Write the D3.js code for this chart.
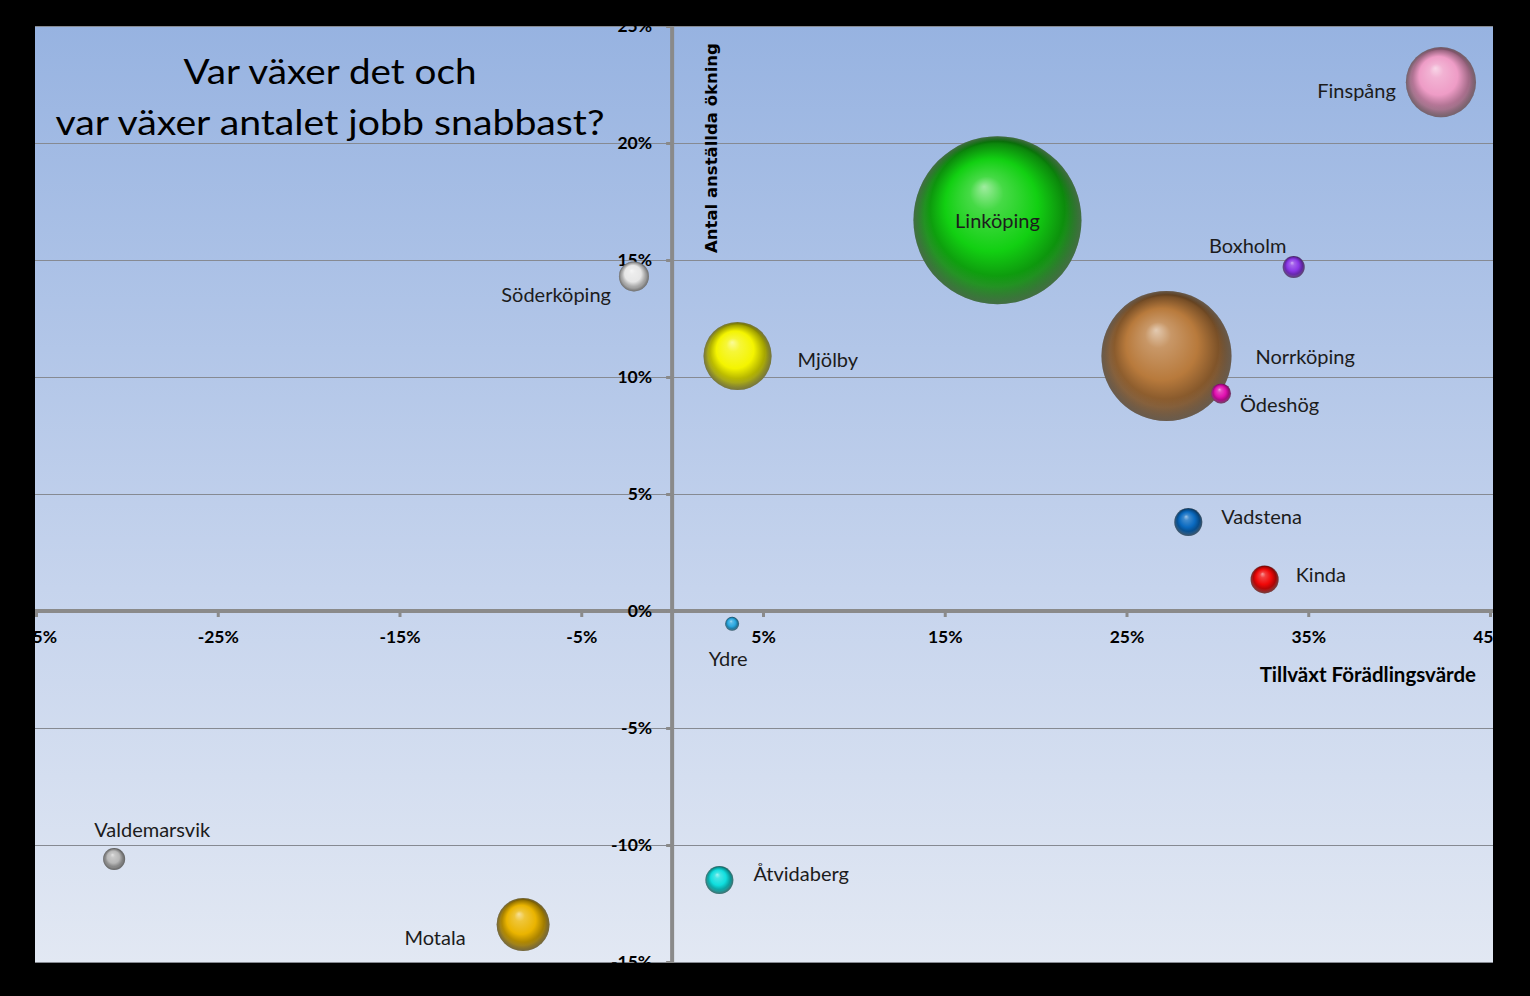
<!DOCTYPE html>
<html>
<head>
<meta charset="utf-8">
<script src="https://cdn.jsdelivr.net/npm/d3@7/dist/d3.min.js"></script>
<style>
  html, body { margin: 0; padding: 0; background: #000; }
  svg { display: block; }
</style>
</head>
<body>
<svg id="chart" width="1530" height="996"></svg>
<script>
// ---------------- DATA ----------------
const municipalities = ["Finspång","Linköping","Boxholm","Norrköping","Ödeshög","Vadstena","Kinda","Ydre","Mjölby","Söderköping","Valdemarsvik","Motala","Åtvidaberg"];
// Tillväxt förädlingsvärde (%)
const valueAddedGrowth = [42.3, 17.9, 34.2, 27.2, 30.2, 28.4, 32.6, 3.3, 3.6, -2.1, -30.7, -8.2, 2.6];
// Antal anställda ökning (%)
const employmentGrowth = [22.6, 16.7, 14.7, 10.9, 9.3, 3.8, 1.35, -0.55, 10.9, 14.3, -10.6, -13.4, -11.5];
// Bubble size (relative)
const bubbleSize = [12.3, 70.6, 1.21, 42.3, 1.0, 1.96, 1.96, 0.49, 11.6, 2.25, 1.21, 7.0, 1.96];
const xTicks = [-35, -25, -15, -5, 5, 15, 25, 35, 45];
const yTicks = [-15, -10, -5, 0, 5, 10, 15, 20, 25];
const titleLines = ["Var växer det och", "var växer antalet jobb snabbast?"];
const xAxisTitle = "Tillväxt Förädlingsvärde";
const yAxisTitle = "Antal anställda ökning";

// ---------------- STYLE ----------------
const FONT = "Lato, 'Open Sans', sans-serif";
const bubbleColors = {
  "Finspång": "#ee9cc6", "Linköping": "#12d012", "Boxholm": "#8a36e6", "Norrköping": "#b87a3c",
  "Ödeshög": "#e010b0", "Vadstena": "#0a6ac0", "Kinda": "#f00808", "Ydre": "#2aa8e0",
  "Mjölby": "#f4f400", "Söderköping": "#e6e6e6", "Valdemarsvik": "#b8b8b8", "Motala": "#eab400",
  "Åtvidaberg": "#10dede"
};
const labelPlacement = {
  "Finspång": {side: "left", gap: 10, dy: 8},
  "Linköping": {side: "center", gap: 0, dy: 0},
  "Boxholm": {side: "custom", dx: -46, dy: -22},
  "Norrköping": {side: "right", gap: 24, dy: 0},
  "Ödeshög": {side: "right", gap: 9, dy: 11},
  "Vadstena": {side: "right", gap: 19, dy: -6},
  "Kinda": {side: "right", gap: 17, dy: -5},
  "Ydre": {side: "custom", dx: -4, dy: 34},
  "Mjölby": {side: "right", gap: 26, dy: 3},
  "Söderköping": {side: "left", gap: 8, dy: 18},
  "Valdemarsvik": {side: "custom", dx: 38, dy: -30},
  "Motala": {side: "left", gap: 31, dy: 12},
  "Åtvidaberg": {side: "right", gap: 20, dy: -7}
};

const W = 1530, H = 996;
const plot = {left: 35, right: 1493, top: 26, bottom: 963};

const svg = d3.select("#chart");
const defs = svg.append("defs");

const bg = defs.append("linearGradient").attr("id", "bgGrad")
  .attr("x1", 0).attr("y1", 0).attr("x2", 0).attr("y2", 1);
bg.append("stop").attr("offset", "0%").attr("stop-color", "#97b3e1");
bg.append("stop").attr("offset", "60%").attr("stop-color", "#c6d4ed");
bg.append("stop").attr("offset", "100%").attr("stop-color", "#e2e8f3");

defs.append("clipPath").attr("id", "plotClip").append("rect")
  .attr("x", plot.left).attr("y", plot.top)
  .attr("width", plot.right - plot.left).attr("height", plot.bottom - plot.top);

svg.append("rect").attr("width", W).attr("height", H).attr("fill", "#000");
svg.append("rect").attr("x", plot.left).attr("y", plot.top)
  .attr("width", plot.right - plot.left).attr("height", plot.bottom - plot.top)
  .attr("fill", "url(#bgGrad)");

const x = d3.scaleLinear().domain([-35, 45]).range([36, 1490]);
const y = d3.scaleLinear().domain([-15, 25]).range([962, 26]);
const r = d3.scaleSqrt().domain([0, 70.6]).range([0, 84]);

const g = svg.append("g").attr("clip-path", "url(#plotClip)");

g.append("g").selectAll("line").data(yTicks).join("line")
  .attr("x1", plot.left).attr("x2", plot.right)
  .attr("y1", d => Math.round(y(d)) + 0.5).attr("y2", d => Math.round(y(d)) + 0.5)
  .attr("stroke", "#868a92").attr("stroke-width", 1);

const axisColor = "#8a8a8a";
g.append("line").attr("x1", plot.left).attr("x2", plot.right)
  .attr("y1", y(0)).attr("y2", y(0)).attr("stroke", axisColor).attr("stroke-width", 4);
g.append("line").attr("x1", x(0)).attr("x2", x(0))
  .attr("y1", plot.top).attr("y2", plot.bottom).attr("stroke", axisColor).attr("stroke-width", 4);

const xAxis = d3.axisBottom(x).tickValues(xTicks).tickSize(6).tickPadding(14)
  .tickFormat(d => d + "%");
const xg = g.append("g").attr("transform", `translate(0,${y(0)})`).call(xAxis);
xg.select(".domain").remove();
xg.selectAll(".tick line").attr("stroke", axisColor).attr("stroke-width", 3);
xg.selectAll(".tick text").attr("fill", "#000").attr("font-size", 17.5).attr("font-weight", "bold")
  .attr("font-family", FONT);

const yAxis = d3.axisLeft(y).tickValues(yTicks).tickSize(6).tickPadding(14)
  .tickFormat(d => d + "%");
const yg = g.append("g").attr("transform", `translate(${x(0)},0)`).call(yAxis);
yg.select(".domain").remove();
yg.selectAll(".tick line").attr("stroke", axisColor).attr("stroke-width", 3);
yg.selectAll(".tick text").attr("fill", "#000").attr("font-size", 17.5).attr("font-weight", "bold")
  .attr("font-family", FONT);

const data = municipalities.map((name, i) => ({
  name, vx: valueAddedGrowth[i], vy: employmentGrowth[i], s: bubbleSize[i], i
}));

function mix(c1, c2, t) { return d3.interpolateRgb(c1, c2)(t); }

data.forEach(d => {
  const c = bubbleColors[d.name];
  const gr = defs.append("radialGradient").attr("id", "sph" + d.i)
    .attr("cx", "50%").attr("cy", "50%").attr("r", "50%")
    .attr("fx", "42%").attr("fy", "30%");
  gr.append("stop").attr("offset", "0%").attr("stop-color", mix(c, "#ffffff", 0.6));
  gr.append("stop").attr("offset", "20%").attr("stop-color", mix(c, "#ffffff", 0.22));
  gr.append("stop").attr("offset", "55%").attr("stop-color", c);
  gr.append("stop").attr("offset", "85%").attr("stop-color", mix(c, "#000000", 0.35));
  gr.append("stop").attr("offset", "100%").attr("stop-color", mix(c, "#000000", 0.7));
});
const rim = defs.append("radialGradient").attr("id", "rimGrad")
  .attr("cx", "50%").attr("cy", "50%").attr("r", "50%").attr("fx", "50%").attr("fy", "15%");
rim.append("stop").attr("offset", "0%").attr("stop-color", "#fff").attr("stop-opacity", 0);
rim.append("stop").attr("offset", "80%").attr("stop-color", "#fff").attr("stop-opacity", 0);
rim.append("stop").attr("offset", "100%").attr("stop-color", "#fff").attr("stop-opacity", 0.25);

const sorted = data.slice().sort((a, b) => b.s - a.s);
const bub = g.append("g").selectAll("g").data(sorted).join("g");
bub.append("circle")
  .attr("cx", d => x(d.vx)).attr("cy", d => y(d.vy)).attr("r", d => r(d.s))
  .attr("fill", d => `url(#sph${d.i})`);
bub.append("circle")
  .attr("cx", d => x(d.vx)).attr("cy", d => y(d.vy)).attr("r", d => r(d.s))
  .attr("fill", "url(#rimGrad)");

g.append("g").selectAll("text").data(data).join("text")
  .attr("font-family", FONT)
  .attr("font-size", 20).attr("fill", "#1c1c1c").attr("dominant-baseline", "central")
  .each(function(d) {
    const p = labelPlacement[d.name];
    const cx = x(d.vx), cy = y(d.vy), rr = r(d.s);
    let tx = cx, anchor = "middle";
    if (p.side === "left") { tx = cx - rr - p.gap; anchor = "end"; }
    else if (p.side === "right") { tx = cx + rr + p.gap; anchor = "start"; }
    else if (p.side === "custom") { tx = cx + p.dx; }
    d3.select(this).attr("x", tx).attr("y", cy + p.dy).attr("text-anchor", anchor).text(d.name);
  });

const titleWidths = [293, 549];
g.append("g").selectAll("text").data(titleLines).join("text")
  .attr("x", 330).attr("y", (d, i) => 84 + i * 51)
  .attr("text-anchor", "middle").attr("font-size", 35).attr("fill", "#000")
  .attr("font-family", FONT)
  .attr("textLength", (d, i) => titleWidths[i]).attr("lengthAdjust", "spacingAndGlyphs")
  .text(d => d);

g.append("text").attr("x", 1476).attr("y", 682).attr("text-anchor", "end")
  .attr("font-size", 20.5).attr("font-weight", "bold").attr("fill", "#000")
  .attr("font-family", FONT)
  .text(xAxisTitle);
g.append("text").attr("transform", "translate(717,253) rotate(-90)")
  .attr("text-anchor", "start").attr("font-size", 16.5).attr("font-weight", "bold")
  .attr("font-family", "'DejaVu Sans', Verdana, sans-serif").attr("fill", "#000")
  .text(yAxisTitle);
</script>
</body>
</html>
